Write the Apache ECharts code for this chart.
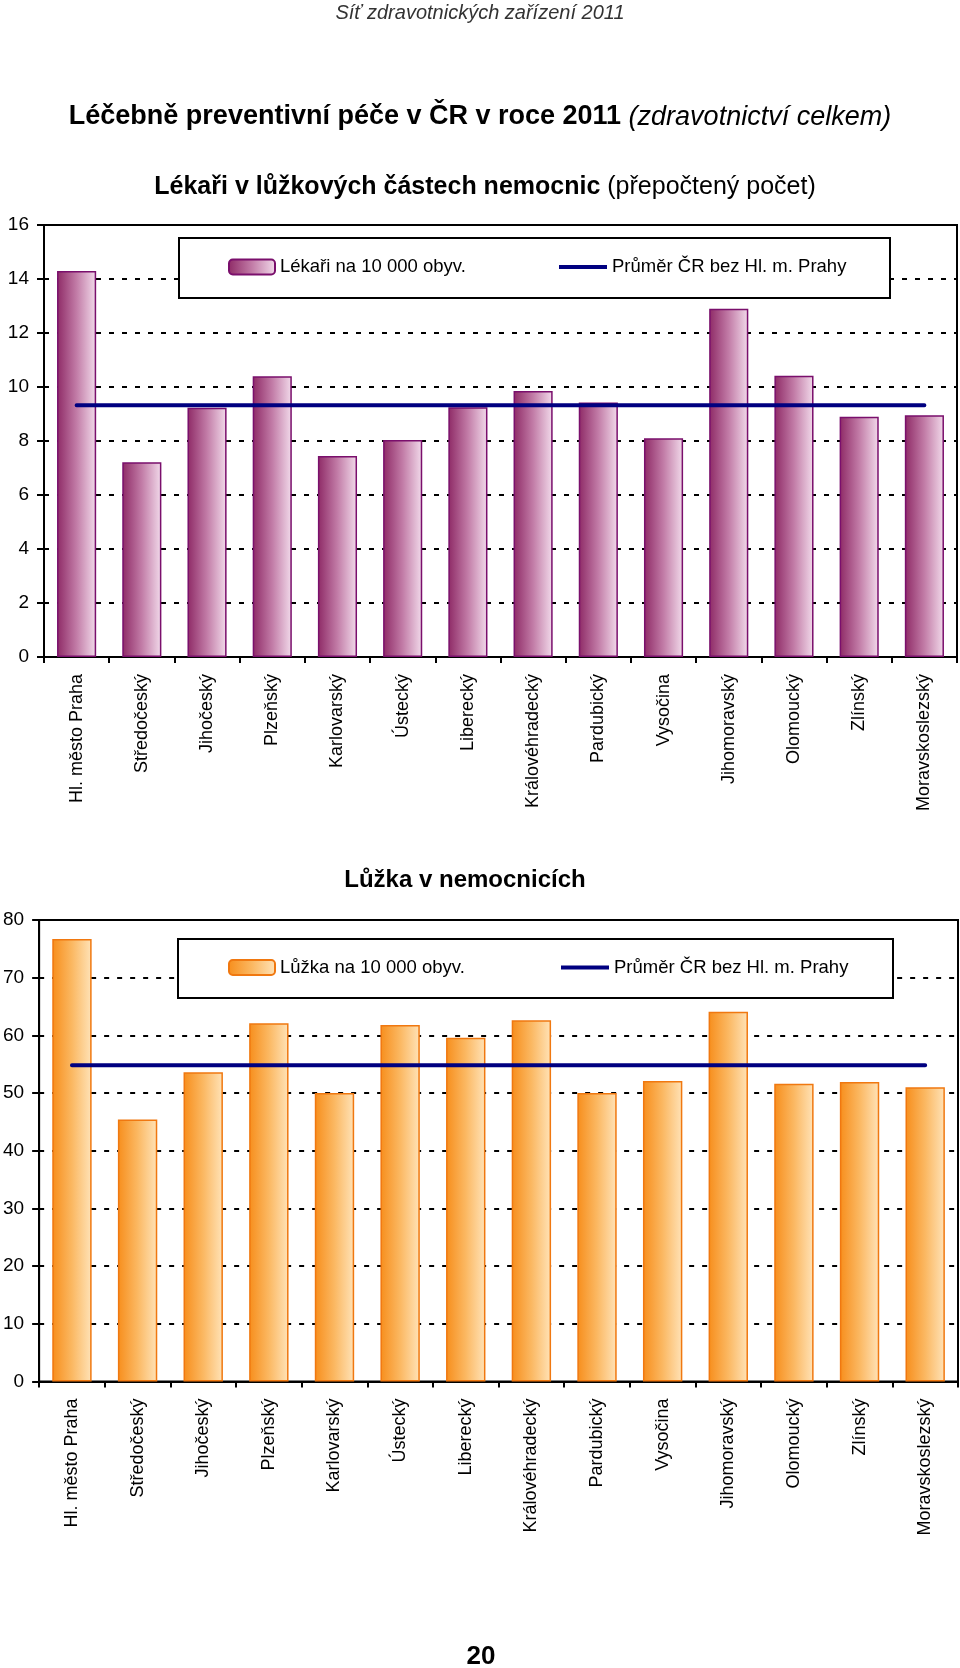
<!DOCTYPE html>
<html>
<head>
<meta charset="utf-8">
<script src="https://cdn.jsdelivr.net/npm/echarts@6/dist/echarts.min.js"></script>
<style>
html,body{margin:0;padding:0;background:#fff;}
#c1{position:absolute;left:0;top:0;width:960px;height:830px;}
#c2{position:absolute;left:0;top:830px;width:960px;height:838px;}
</style>
</head>
<body>
<div id="c1"></div>
<div id="c2"></div>
<script>
// ---- data ----
const categories = ['Hl. město Praha','Středočeský','Jihočeský','Plzeňský','Karlovarský','Ústecký','Liberecký','Královéhradecký','Pardubický','Vysočina','Jihomoravský','Olomoucký','Zlínský','Moravskoslezský'];
const doctorsPer10k = [14.3, 7.21, 9.23, 10.4, 7.44, 8.04, 9.25, 9.85, 9.43, 8.1, 12.9, 10.42, 8.9, 8.95];
const doctorsAvg = [9.32, 9.32, 9.32, 9.32, 9.32, 9.32, 9.32, 9.32, 9.32, 9.32, 9.32, 9.32, 9.32, 9.32];
const bedsPer10k = [76.7, 45.4, 53.6, 62.1, 50.0, 61.8, 59.6, 62.6, 50.0, 52.1, 64.1, 51.6, 51.9, 51.0];
const bedsAvg = [54.8, 54.8, 54.8, 54.8, 54.8, 54.8, 54.8, 54.8, 54.8, 54.8, 54.8, 54.8, 54.8, 54.8];
const yScale1 = [0, 16, 2];   // min, max, interval
const yScale2 = [0, 80, 10];
const nameDoctors = 'Lékaři na 10 000 obyv.';
const nameBeds = 'Lůžka na 10 000 obyv.';
const nameAvg = 'Průměr ČR bez Hl. m. Prahy';

const SANS = "'Liberation Sans', Arial, sans-serif";

function grad(stops){
  return {type:'linear',x:0,y:0,x2:1,y2:0,colorStops:stops.map(s=>({offset:s[0],color:s[1]}))};
}
const purple = grad([[0,'#8e2a66'],[0.5,'#c27ca7'],[1,'#f2dbeb']]);
const orange = grad([[0,'#f78e1c'],[0.5,'#fbb862'],[1,'#ffe3b8']]);

function axes(yScale){
  return {
    xAxis: {
      type:'category', data:categories, boundaryGap:true,
      axisLine:{lineStyle:{color:'#000',width:2}},
      axisTick:{show:true,length:6,lineStyle:{color:'#000',width:2}},
      axisLabel:{rotate:90,margin:17,fontSize:18,fontFamily:SANS,color:'#000',interval:0}
    },
    yAxis: {
      type:'value', min:yScale[0], max:yScale[1], interval:yScale[2],
      axisLine:{show:true,lineStyle:{color:'#000',width:2}},
      axisTick:{show:true,length:7,lineStyle:{color:'#000',width:2}},
      axisLabel:{margin:15,fontSize:19,fontFamily:SANS,color:'#000'},
      splitLine:{show:true,lineStyle:{color:'#000',width:2,type:[5,8]}}
    }
  };
}

function legendPair(top, leftA, leftB, nameA){
  const text = {fontSize:18.5,fontFamily:SANS,color:'#000',lineHeight:22};
  return [
    {orient:'horizontal', top:top, left:leftA, padding:0, itemWidth:46, itemHeight:15, z:20,
     textStyle:text, selectedMode:false, data:[nameA]},
    {orient:'horizontal', top:top, left:leftB, padding:0, itemWidth:48, itemHeight:4, z:20,
     textStyle:text, selectedMode:false, icon:'rect',
     itemStyle:{color:'#000080',borderWidth:0}, data:[{name:nameAvg, icon:'rect'}]}
  ];
}

// ---- chart 1 ----
const c1 = echarts.init(document.getElementById('c1'), null, {renderer:'canvas'});
const a1 = axes(yScale1);
c1.setOption({
  animation:false,
  title:[
    {text:'Síť zdravotnických zařízení 2011', left:'center', top:1, padding:0,
     textStyle:{fontSize:20,fontStyle:'italic',fontWeight:'normal',fontFamily:SANS,color:'#333',lineHeight:24}},
    {text:'{b|Léčebně preventivní péče v ČR v roce 2011} {i|(zdravotnictví celkem)}', left:'center', top:102, padding:0,
     textStyle:{fontSize:27,fontFamily:SANS,color:'#000',lineHeight:30,
       rich:{b:{fontSize:27,fontWeight:'bold',fontFamily:SANS,color:'#000',lineHeight:30},
             i:{fontSize:27,fontStyle:'italic',fontWeight:'normal',fontFamily:SANS,color:'#000',lineHeight:30}}}},
    {text:'{b|Lékaři v lůžkových částech nemocnic} {n|(přepočtený počet)}', left:485, textAlign:'center', top:173, padding:0,
     textStyle:{fontSize:25,fontFamily:SANS,color:'#000',lineHeight:28,
       rich:{b:{fontSize:25,fontWeight:'bold',fontFamily:SANS,color:'#000',lineHeight:28},
             n:{fontSize:25,fontWeight:'normal',fontFamily:SANS,color:'#000',lineHeight:28}}}}
  ],
  grid:{left:44,right:3,top:225,height:432,show:true,borderColor:'#000',borderWidth:2,backgroundColor:'transparent'},
  xAxis:a1.xAxis, yAxis:a1.yAxis,
  legend: legendPair(256, 228, 559, nameDoctors),
  graphic:[{type:'rect',z:10,shape:{x:179,y:238,width:711,height:60},style:{fill:'#fff',stroke:'#000',lineWidth:2}}],
  series:[
    {name:nameDoctors,type:'bar',data:doctorsPer10k,barWidth:'60%',z:2,
     itemStyle:{color:purple,borderColor:'#7a0f6c',borderWidth:1.5}},
    {name:nameAvg,type:'line',data:doctorsAvg,symbol:'none',showSymbol:false,z:3,
     lineStyle:{color:'#000080',width:4,cap:'round'},itemStyle:{color:'#000080'}}
  ]
});

// ---- chart 2 ----
const c2 = echarts.init(document.getElementById('c2'), null, {renderer:'canvas'});
const a2 = axes(yScale2);
c2.setOption({
  animation:false,
  title:[
    {text:'Lůžka v nemocnicích', left:465, textAlign:'center', top:37, padding:0,
     textStyle:{fontSize:24,fontWeight:'bold',fontFamily:SANS,color:'#000',lineHeight:26}},
    {text:'20', left:481, textAlign:'center', top:813, padding:0,
     textStyle:{fontSize:26,fontWeight:'bold',fontFamily:SANS,color:'#000',lineHeight:28}}
  ],
  grid:{left:39,right:2,top:90,height:461.4,show:true,borderColor:'#000',borderWidth:2,backgroundColor:'transparent'},
  xAxis:a2.xAxis, yAxis:a2.yAxis,
  legend: legendPair(126.5, 228, 561, nameBeds),
  graphic:[{type:'rect',z:10,shape:{x:178,y:109,width:715,height:59},style:{fill:'#fff',stroke:'#000',lineWidth:2}}],
  series:[
    {name:nameBeds,type:'bar',data:bedsPer10k,barWidth:'60%',z:2,
     itemStyle:{color:orange,borderColor:'#f07810',borderWidth:1.5}},
    {name:nameAvg,type:'line',data:bedsAvg,symbol:'none',showSymbol:false,z:3,
     lineStyle:{color:'#000080',width:4,cap:'round'},itemStyle:{color:'#000080'}}
  ]
});
</script>
</body>
</html>
